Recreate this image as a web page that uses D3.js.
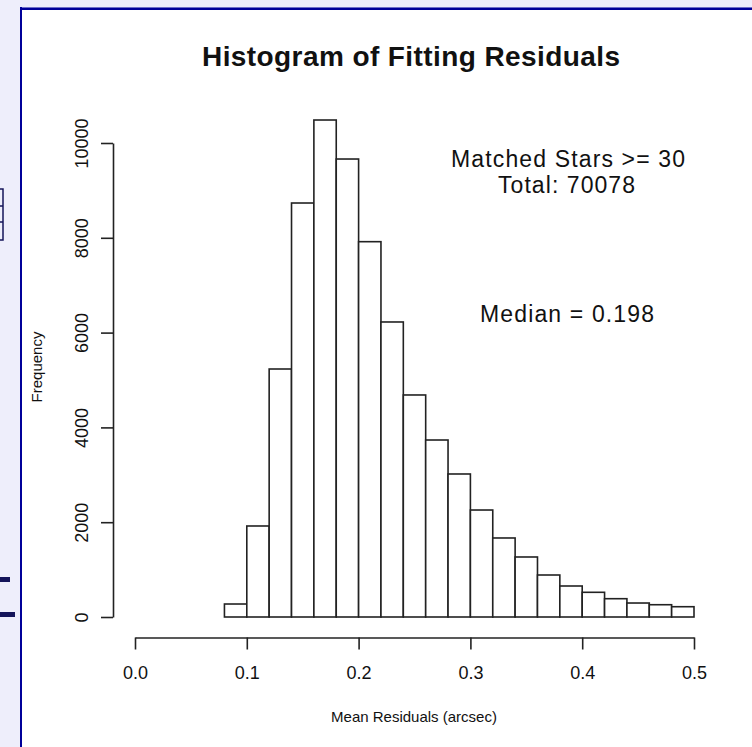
<!DOCTYPE html>
<html>
<head>
<meta charset="utf-8">
<script src="https://cdn.jsdelivr.net/npm/d3@7"></script>
<style>
  body { margin: 0; background: #eeeefb; }
  svg { display: block; }
  text { font-family: "Liberation Sans", Arial, Helvetica, sans-serif; fill: #111; }
</style>
</head>
<body>
<div id="chart"></div>
<script>
// histogram bins (left edge) and counts
const binStarts = [0.00, 0.02, 0.04, 0.06, 0.08, 0.10, 0.12, 0.14, 0.16, 0.18,
                   0.20, 0.22, 0.24, 0.26, 0.28, 0.30, 0.32, 0.34, 0.36, 0.38,
                   0.40, 0.42, 0.44, 0.46, 0.48]
const counts = [0, 0, 0, 0, 274, 1920, 5232, 8734, 10485, 9662,
                7918, 6224, 4684, 3734, 3017, 2257, 1667, 1266, 886, 654,
                521, 386, 295, 259, 217]
const binWidth = 0.02

const xTicks = [0, 0.1, 0.2, 0.3, 0.4, 0.5]
const yTicks = [0, 2000, 4000, 6000, 8000, 10000]

const titleText = 'Histogram of Fitting Residuals'
const xLabel = 'Mean Residuals (arcsec)'
const yLabel = 'Frequency'
const notes = ['Matched Stars >= 30', 'Total: 70078']
const medianNote = 'Median = 0.198'

const W = 752, H = 747

const svg = d3.select('#chart').append('svg')
  .attr('width', W)
  .attr('height', H)

// page frame bits (blue border, clipped stuff on the left)
svg.append('rect').attr('x', 0).attr('y', 0).attr('width', W).attr('height', H).attr('fill', '#eeeefb')
svg.append('rect').attr('x', 20).attr('y', 7).attr('width', W - 20).attr('height', H - 7).attr('fill', '#fff')
svg.append('rect').attr('x', 20).attr('y', 7).attr('width', W - 20).attr('height', 1).attr('fill', '#6f6fc8')
svg.append('rect').attr('x', 20).attr('y', 8).attr('width', W - 20).attr('height', 2).attr('fill', '#000099')
svg.append('rect').attr('x', 20).attr('y', 7).attr('width', 2).attr('height', H - 7).attr('fill', '#000099')

const junk = svg.append('g').attr('fill', 'none').attr('stroke', '#14145a').attr('stroke-width', 1.5)
junk.append('rect').attr('x', -6).attr('y', 189).attr('width', 9).attr('height', 51)
junk.append('line').attr('x1', -6).attr('x2', 3).attr('y1', 206).attr('y2', 206)
junk.append('line').attr('x1', -6).attr('x2', 3).attr('y1', 222).attr('y2', 222)
svg.append('rect').attr('x', 0).attr('y', 577).attr('width', 10).attr('height', 5).attr('fill', '#14145a')
svg.append('rect').attr('x', 0).attr('y', 612).attr('width', 15).attr('height', 5).attr('fill', '#14145a')

const x = d3.scaleLinear().domain([0, 0.5]).range([135, 694])
const y = d3.scaleLinear().domain([0, 10000]).range([617, 143])

// bars
svg.append('g').selectAll('rect')
  .data(binStarts.map((b, i) => ({x0: b, n: counts[i]})))
  .join('rect')
  .attr('x', d => x(d.x0))
  .attr('width', d => x(d.x0 + binWidth) - x(d.x0))
  .attr('y', d => y(d.n))
  .attr('height', d => y(0) - y(d.n))
  .attr('fill', '#fff')
  .attr('stroke', '#222')
  .attr('stroke-width', 1.6)

// axes
const axisX = d3.axisBottom(x).tickValues(xTicks).tickFormat(d3.format('.1f'))
  .tickSize(12).tickSizeOuter(0).tickPadding(17)
const gx = svg.append('g').attr('transform', 'translate(0,637.5)').call(axisX)
gx.selectAll('text').attr('font-size', 18)

const axisY = d3.axisLeft(y).tickValues(yTicks).tickFormat(d3.format('d'))
  .tickSize(12).tickSizeOuter(0)
const gy = svg.append('g').attr('transform', 'translate(113,0)').call(axisY)
gy.selectAll('text')
  .attr('x', null).attr('dy', null)
  .attr('text-anchor', 'middle')
  .attr('transform', 'translate(-25,0) rotate(-90)')
  .attr('font-size', 18)

svg.selectAll('.domain, .tick line').attr('stroke', '#222').attr('stroke-width', 1.6)

// labels
svg.append('text').attr('x', 411).attr('y', 66).attr('text-anchor', 'middle')
  .attr('font-size', 28).attr('font-weight', 'bold')
  .attr('textLength', 418).attr('lengthAdjust', 'spacing')
  .text(titleText)

svg.append('text').attr('x', 414).attr('y', 722).attr('text-anchor', 'middle')
  .attr('font-size', 15).text(xLabel)

svg.append('text').attr('text-anchor', 'middle')
  .attr('transform', 'translate(42,367) rotate(-90)')
  .attr('font-size', 15).text(yLabel)

const noteWidths = [234, 137]
svg.append('g').selectAll('text')
  .data(notes)
  .join('text')
  .attr('x', (d, i) => [568, 566.5][i])
  .attr('y', (d, i) => [166.5, 193][i])
  .attr('text-anchor', 'middle')
  .attr('font-size', 23)
  .attr('textLength', (d, i) => noteWidths[i])
  .attr('lengthAdjust', 'spacing')
  .text(d => d)

svg.append('text').attr('x', 567).attr('y', 321.5).attr('text-anchor', 'middle')
  .attr('font-size', 23)
  .attr('textLength', 174).attr('lengthAdjust', 'spacing')
  .text(medianNote)
</script>
</body>
</html>
